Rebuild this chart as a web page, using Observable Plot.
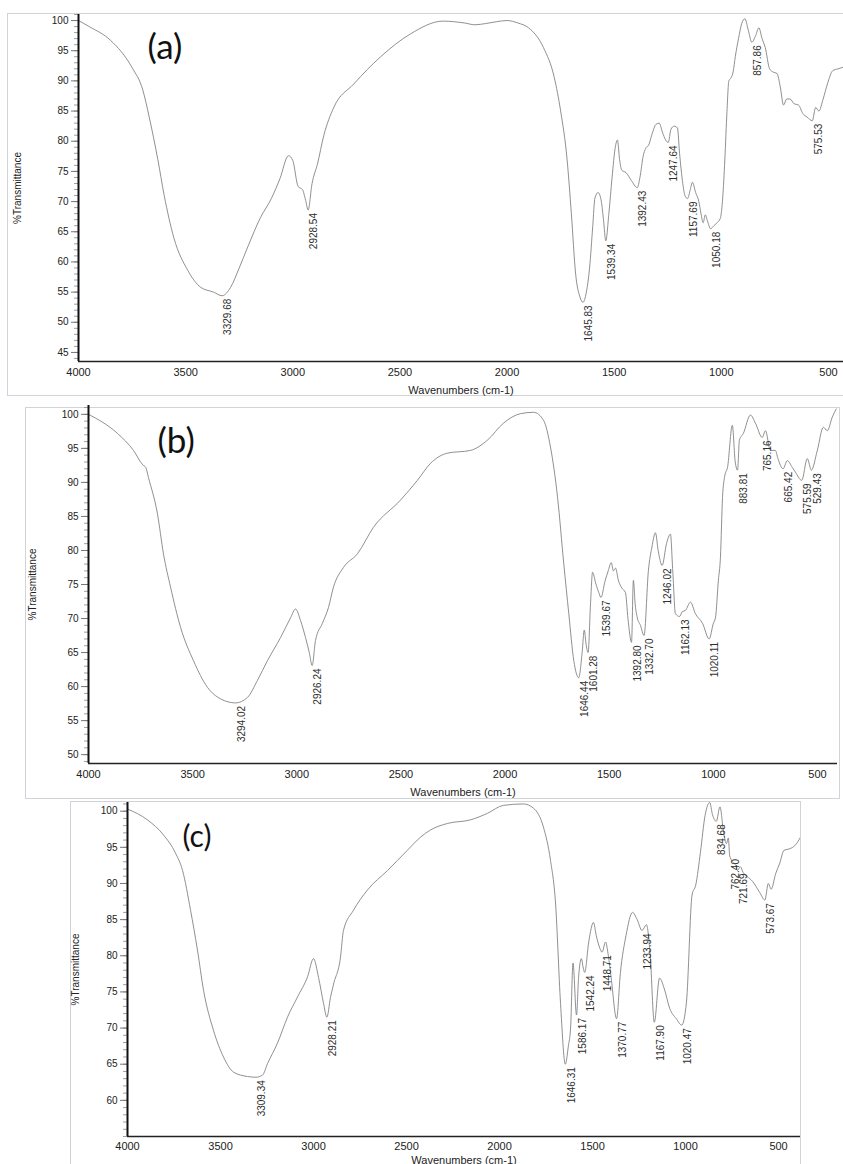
<!DOCTYPE html>
<html><head><meta charset="utf-8">
<script src="https://cdn.jsdelivr.net/npm/d3@7"></script>
<script src="https://cdn.jsdelivr.net/npm/@observablehq/plot@0.6"></script>
<style>
body{margin:0;background:#fff;}
#wrap{position:relative;width:843px;height:1164px;overflow:hidden;background:#fff;}
.panel{position:absolute;left:0;background:transparent;}
.border{position:absolute;border:1px solid #cfd4da;box-sizing:border-box;background:#fff;}
</style></head><body><div id="wrap"></div>
<script>
// ---------------- DATA ----------------
const xTicks = [4000, 3500, 3000, 2500, 2000, 1500, 1000, 500];
const yTicksA = [45, 50, 55, 60, 65, 70, 75, 80, 85, 90, 95, 100];
const yTicksB = [50, 55, 60, 65, 70, 75, 80, 85, 90, 95, 100];
const yTicksC = [60, 65, 70, 75, 80, 85, 90, 95, 100];

// (a)
const wnA = [4000,3950,3850,3750,3700,3670,3630,3600,3555,3490,3430,3370,3329.68,3290,3250,3210,3150,3100,3060,3020,3000,2975,2955,2940,2928.54,2910,2885,2855,2810,2715,2590,2450,2300,2200,2150,2100,2050,2000,1950,1900,1830,1780,1750,1720,1700,1680,1660,1645.83,1630,1615,1600,1590,1575,1560,1550,1539.34,1525,1510,1495,1485,1475,1465,1445,1420,1392.43,1380,1365,1350,1340,1325,1305,1290,1275,1260,1247.64,1235,1220,1205,1195,1180,1170,1157.69,1145,1135,1120,1105,1095,1085,1075,1065,1050.18,1035,1020,1005,995,985,975,965,955,945,935,920,905,890,875,857.86,840,825,810,795,775,760,740,725,710,695,680,660,640,620,600,575.53,560,545,525,505,480,455,430];
const tA = [100,99,96.7,92.2,88.5,84,77,71,64,58.6,55.8,55,54.4,55.8,59,62.5,67.4,70.5,73.8,77.6,76.8,72.5,72,70.2,68.6,73,76.2,81,85.5,89.5,94,97.8,99.9,99.6,99.3,99.5,99.8,100,99.6,98.8,95.5,90.6,85,77,68,58,54.2,53.3,55,59,66,70.6,71.5,70,67,63.5,68,74,79,80.2,77,75.2,74.8,73.5,72.3,74,77.5,79,79.3,81,82.8,83,81.5,80.2,79.8,82,82.5,82.2,78,73,71,70.5,72,73.2,71.5,70,68,66.5,67.8,66.8,65.5,66,66.5,67.2,70,76,84,90,90.5,91.5,94,97,99.5,100.3,98.5,96.4,97.5,98.8,97,95.5,92,91.5,91.2,89,86,87,87,86.2,86,84.6,84,83.4,85.6,85,87,89.5,91.7,92,92.3];
const peaksA = ["3329.68","2928.54","1645.83","1539.34","1392.43","1247.64","1157.69","1050.18","857.86","575.53"];

// (b)
const wnB = [4000,3861,3784,3740,3725,3712,3669,3640,3606,3558,3496,3429,3366,3294.02,3237,3189,3141,3078,3030,3006,2982,2958,2940,2926.24,2910,2877,2848,2824,2776,2709,2632,2502,2421,2358,2277,2166,2085,2008,1926,1863,1815,1782,1748,1718,1694,1670,1646.44,1630,1620,1610,1601.28,1590,1580,1565,1550,1539.67,1520,1505,1490,1480,1470,1455,1440,1422,1410,1392.80,1384,1375,1365,1350,1332.70,1312,1295,1278,1265,1246.02,1225,1206,1195,1182,1162.13,1150,1134,1110,1086,1052,1020.11,1000,990,976,966,956,945,932,909,895,883.81,875,856,822,798,765.16,750,726,702,690,665.42,645,621,606,575.59,549,529.43,501,472,453,429,410];
const tB = [100,97.2,94.7,92.6,92.2,90.7,85.4,79.5,74.6,68.7,63.8,59.9,58.2,57.6,58.4,60.9,63.8,67.2,70.1,71.4,69.7,67.2,65,63.1,66.8,69.3,71.6,74.6,77.5,79.5,83.4,87.4,90.3,92.8,94.3,94.7,96.2,98.7,100.1,100.3,99.1,95.2,87.8,78,70.7,63.8,61.3,65,68.3,66,65,72,76.8,75.2,73.8,73.1,75.5,77,78.2,77,77.4,75.5,74.5,73.8,70,66.5,75.6,72,70.1,69,67.5,77,80.5,82.6,80,77.8,81,82.4,77,70.7,70.3,71,71.2,72.4,70.7,69.3,67,69.3,70.1,75.6,79,87.8,91,92.2,98.4,93,91.8,96.2,97.2,99.9,98.7,96.6,97.6,94.7,94.7,93.5,92,93.2,92.2,91.5,90.3,93.5,91.8,94.7,98.1,97.6,99.6,100.8];
const peaksB = ["3294.02","2926.24","1646.44","1601.28","1539.67","1392.80","1332.70","1246.02","1162.13","1020.11","883.81","765.16","665.42","575.59","529.43"];

// (c)
const wnC = [4000,3893,3806,3742,3704,3661,3624,3591,3538,3484,3430,3355,3309.34,3274,3247,3194,3140,3086,3032,3000,2973,2946,2928.21,2909,2892,2855,2839,2785,2710,2602,2495,2425,2371,2280,2156,2065,1980,1871,1817,1764,1726,1699,1672,1646.31,1630,1618,1605,1586.17,1575,1560,1550,1542.24,1520,1495,1480,1460,1448.71,1430,1415,1400,1370.77,1350,1320,1285,1260,1233.94,1210,1190,1167.90,1140,1115,1085,1050,1020.47,995,965,945,920,895,870,855,834.68,815,795,780,770,762.40,740,730,721.69,705,690,670,640,600,573.67,555,540,515,495,470,440,410,382];
const tC = [100.3,98.8,96.7,94.2,91.8,86.3,80.8,75.2,69.7,66,63.9,63.3,63.2,63.5,65.1,67.9,71.5,74.3,77.1,79.6,77,73.4,71.5,74.2,76.1,79.8,83.5,86.3,89.1,91.8,94.6,96.4,97.4,98.3,98.8,99.7,100.8,101,100.4,97.8,93.2,87.3,73.4,65,67.5,70,79,71.8,77,79.6,78.3,77.7,82,84.6,82.8,81,80.5,81.9,80,77,71.3,77.7,82.8,86,85,83.5,84.3,80,70.8,76.9,75.5,72.7,71.3,70.4,73.6,88.4,89.8,94.3,99.4,101.2,99.5,98.6,100.6,97,95.5,96.3,93.8,92.8,92.5,91.8,92.3,91.5,91,90.3,88.7,87.7,90,89.2,91.4,92.7,94.6,94.8,95.3,96.4];
const peaksC = ["3309.34","2928.21","1646.31","1586.17","1542.24","1448.71","1370.77","1233.94","1167.90","1020.47","834.68","762.40","721.69","573.67"];

// ---------------- LAYOUT ----------------
const panels = [
  {name:"(a)", wn:wnA, t:tA, peaks:peaksA, yTicks:yTicksA, xDomain:[4000,430], yDomain:[43.5,101],
   top:0, height:400, ml:78, mr:0, mt:14, mb:39, xtp:7, xlo:32, ylo:65, ndx:69, ndy:33, nfs:35,
   border:{left:7, top:13, width:840, height:383}},
  {name:"(b)", wn:wnB, t:tB, peaks:peaksB, yTicks:yTicksB, xDomain:[4000,404], yDomain:[48.7,101.3],
   top:400, height:400, ml:88, mr:6, mt:5, mb:37, xtp:7, xlo:32, ylo:60, ndx:69, ndy:36, nfs:35,
   border:{left:25, top:407, width:815, height:392}},
  {name:"(c)", wn:wnC, t:tC, peaks:peaksC, yTicks:yTicksC, xDomain:[4000,382], yDomain:[55,101.2],
   top:797, height:367, ml:127, mr:43, mt:5, mb:28, xtp:6, xlo:27, ylo:56, ndx:55, ndy:35, nfs:30,
   border:{left:70, top:801, width:731, height:370}}
];

const wrap = document.getElementById("wrap");

for (const cfg of panels) {
  const b = document.createElement("div");
  b.className = "border";
  Object.assign(b.style, {left:cfg.border.left+"px", top:cfg.border.top+"px", width:cfg.border.width+"px", height:cfg.border.height+"px"});
  wrap.appendChild(b);

  const data = cfg.wn.map((w, i) => ({wn: w, t: cfg.t[i]}));
  const labels = cfg.peaks.map(p => {
    const d = data.find(e => e.wn === +p);
    return {label: p, wn: d.wn, t: d.t};
  });
  const minor = d3.range(Math.ceil(cfg.yDomain[0]), Math.floor(cfg.yDomain[1]) + 1);

  const svg = Plot.plot({
    width: 843, height: cfg.height,
    marginLeft: cfg.ml, marginRight: cfg.mr, marginTop: cfg.mt, marginBottom: cfg.mb,
    style: {background: "transparent", fontFamily: "'Liberation Sans', Arial, sans-serif", fontSize: "11px", color: "#222", overflow: "visible"},
    x: {domain: cfg.xDomain},
    y: {domain: cfg.yDomain},
    marks: [
      Plot.axisY({ticks: minor, tickSize: 4, tickFormat: () => "", stroke: "#9aa0a6", label: null}),
      Plot.axisY({ticks: cfg.yTicks, tickSize: 7, tickPadding: 3, stroke: "#777", tickFormat: d => String(d),
        label: "%Transmittance", labelAnchor: "center", labelOffset: cfg.ylo, labelArrow: "none", fontSize: 10}),
      Plot.axisX({ticks: xTicks, tickSize: 0, tickPadding: cfg.xtp, tickFormat: d => String(d),
        label: "Wavenumbers (cm-1)", labelAnchor: "center", labelOffset: cfg.xlo, labelArrow: "none"}),
      Plot.line(data, {x: "wn", y: "t", stroke: "#7c7c7c", strokeWidth: 0.85, curve: "monotone-x", clip: true}),
      Plot.ruleX([cfg.xDomain[0]], {stroke: "#111", strokeWidth: 2}),
      Plot.ruleY([cfg.yDomain[0]], {stroke: "#222", strokeWidth: 1.5}),
      Plot.text(labels, {x: "wn", y: "t", text: "label", rotate: -90, textAnchor: "end", dx: 6, dy: 3, fontSize: 10, fill: "#2e2e2e"}),
      Plot.text([cfg.name], {frameAnchor: "top-left", dx: cfg.ndx, dy: cfg.ndy, fontSize: cfg.nfs,
        fontFamily: "Lato, 'Open Sans', sans-serif", lineAnchor: "middle", textAnchor: "start", fill: "#111"})
    ]
  });
  svg.classList.add("panel");
  svg.style.top = cfg.top + "px";
  svg.style.position = "absolute";
  wrap.appendChild(svg);
}
</script></body></html>
